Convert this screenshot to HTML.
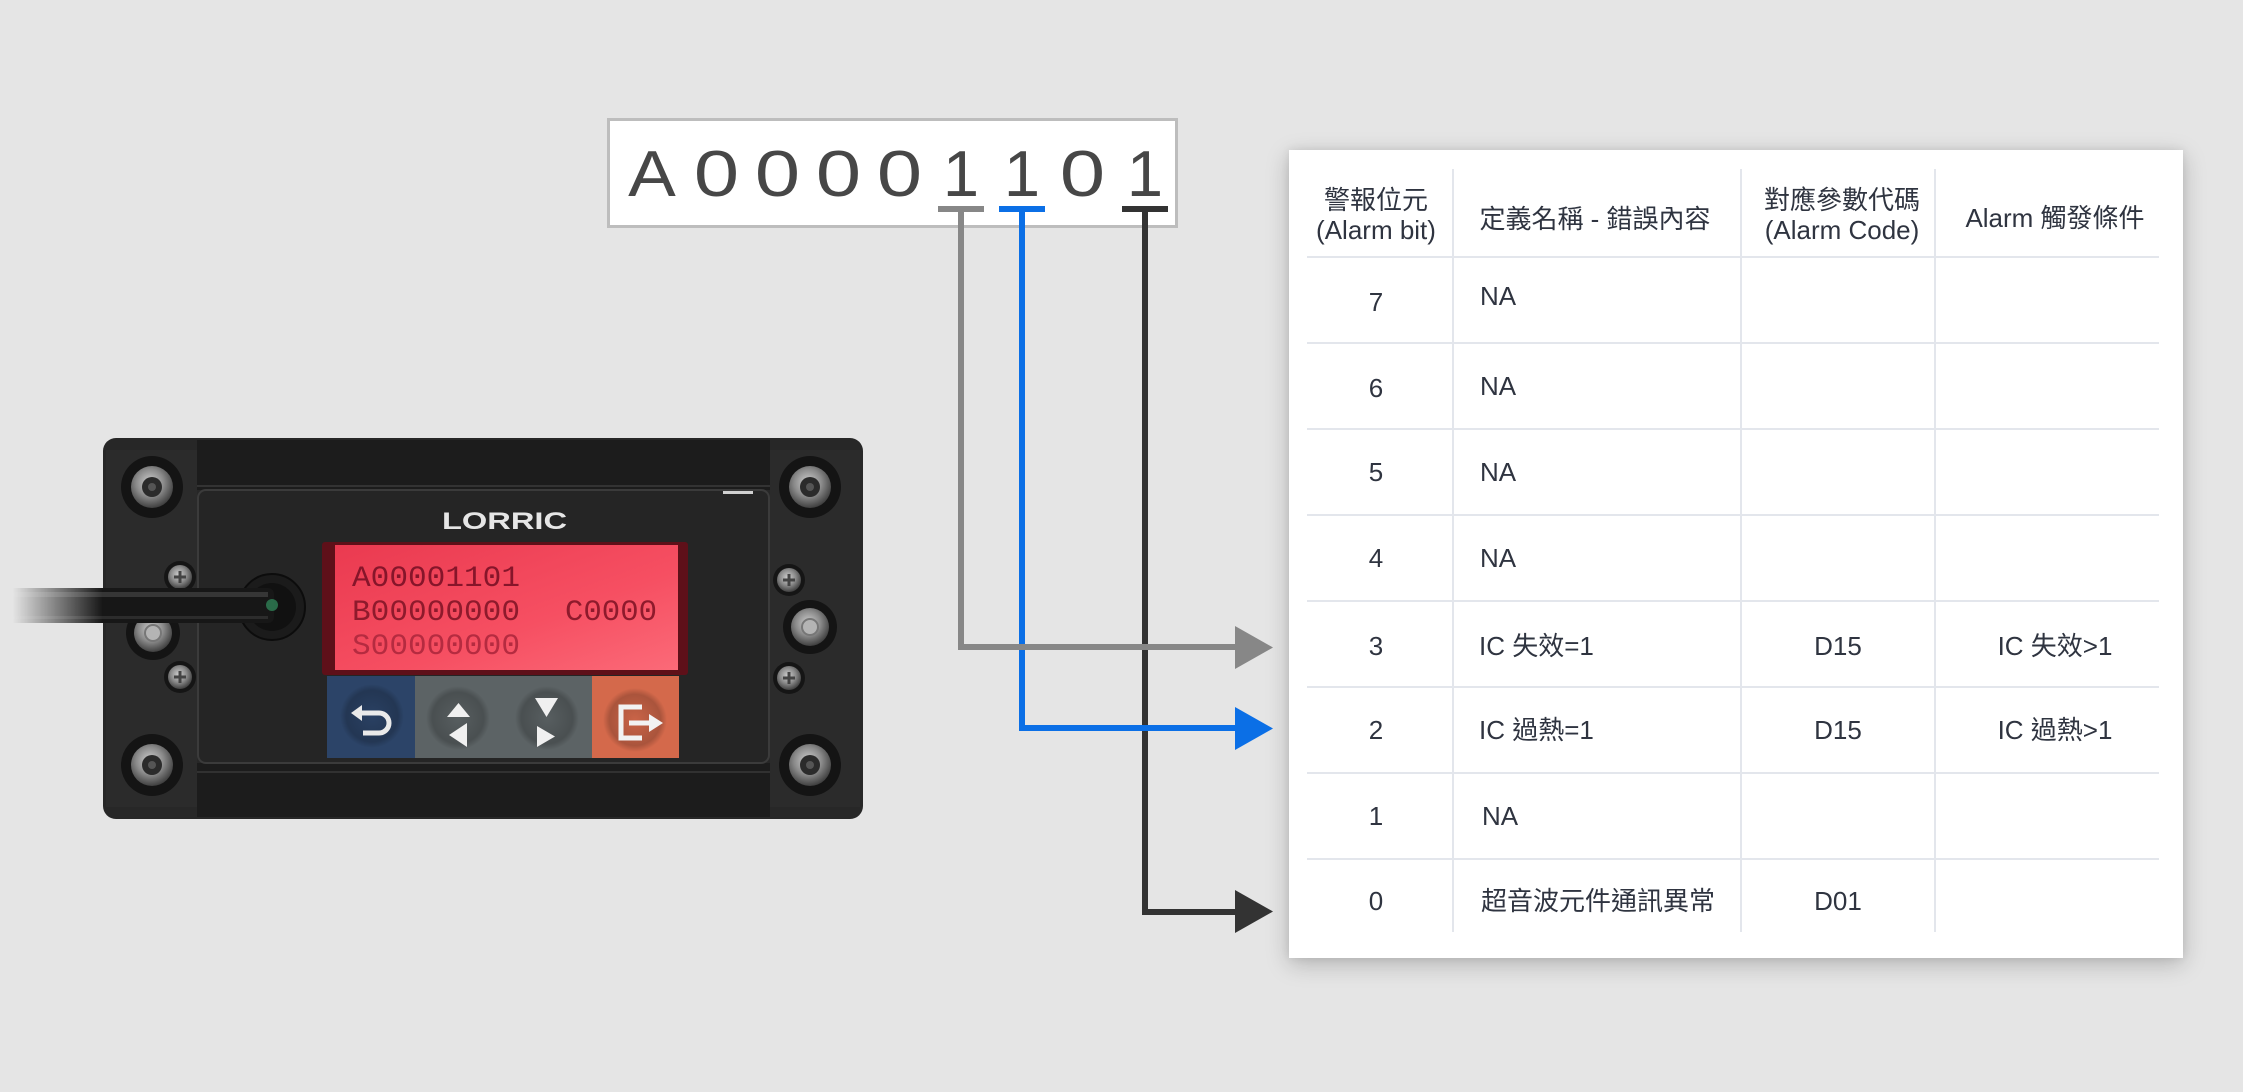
<!DOCTYPE html>
<html><head><meta charset="utf-8">
<style>
html,body{margin:0;padding:0;}
body{width:2243px;height:1092px;background:#e5e5e5;position:relative;overflow:hidden;}
#panel{position:absolute;left:1289px;top:150px;width:894px;height:808px;background:#fff;box-shadow:0 6px 22px rgba(0,0,0,0.22),0 0 8px rgba(0,0,0,0.08);}
svg{position:absolute;left:0;top:0;}
</style></head><body>
<div id="panel"></div>
<svg width="2243" height="1092" viewBox="0 0 2243 1092" xmlns="http://www.w3.org/2000/svg">
<defs>
  <radialGradient id="metal" cx="0.45" cy="0.4" r="0.6">
    <stop offset="0" stop-color="#cfcfcf"/>
    <stop offset="0.55" stop-color="#8a8a8a"/>
    <stop offset="1" stop-color="#404040"/>
  </radialGradient>
  <linearGradient id="lcd" x1="0" y1="0" x2="1" y2="1">
    <stop offset="0" stop-color="#ea3a50"/>
    <stop offset="0.6" stop-color="#f64f62"/>
    <stop offset="1" stop-color="#fb6a78"/>
  </linearGradient>
  <radialGradient id="btnShade" cx="0.5" cy="0.5" r="0.5">
    <stop offset="0" stop-color="#000" stop-opacity="0.05"/>
    <stop offset="0.8" stop-color="#000" stop-opacity="0.2"/>
    <stop offset="1" stop-color="#000" stop-opacity="0"/>
  </radialGradient>
  <linearGradient id="fade" x1="0" y1="0" x2="1" y2="0">
    <stop offset="0" stop-color="#000"/>
    <stop offset="0.04" stop-color="#000"/>
    <stop offset="0.32" stop-color="#fff"/>
    <stop offset="1" stop-color="#fff"/>
  </linearGradient>
  <mask id="cableMask" maskUnits="userSpaceOnUse" x="0" y="570" width="320" height="70">
    <rect x="0" y="570" width="320" height="70" fill="url(#fade)"/>
  </mask>
</defs>

<!-- ===== Device ===== -->
<rect x="103" y="438" width="760" height="381" rx="13" fill="#272727"/>
<rect x="106" y="450" width="91" height="357" fill="#2b2b2b"/>
<rect x="770" y="450" width="90" height="357" fill="#2b2b2b"/>
<rect x="197" y="440" width="573" height="50" fill="#1c1c1c"/>
<rect x="197" y="485" width="573" height="2" fill="#333"/>
<rect x="197" y="763" width="573" height="54" fill="#1c1c1c"/>
<rect x="197" y="771" width="573" height="2" fill="#313131"/>
<!-- bezel -->
<rect x="198" y="490" width="571" height="273" rx="8" fill="#252525" stroke="#3b3b3b" stroke-width="2"/>
<rect x="723" y="491" width="30" height="3" fill="#d0d0d0"/>
<!-- LORRIC -->
<text x="442" y="529" font-family="'Liberation Sans',sans-serif" font-weight="bold" font-size="24" fill="#e6e6e6" textLength="125" lengthAdjust="spacingAndGlyphs">LORRIC</text>
<!-- LCD -->
<rect x="322" y="542" width="366" height="133" rx="3" fill="#5e1019"/>
<rect x="335" y="545" width="343" height="125" fill="url(#lcd)"/>
<g font-family="'Liberation Mono',monospace" font-size="30">
  <text x="352" y="586" fill="#86152a" textLength="168" lengthAdjust="spacingAndGlyphs">A00001101</text>
  <text x="352" y="620" fill="#8e1a2c" textLength="168" lengthAdjust="spacingAndGlyphs">B00000000</text>
  <text x="565" y="620" fill="#8e1a2c" textLength="92" lengthAdjust="spacingAndGlyphs">C0000</text>
  <text x="352" y="654" fill="#b52b40" textLength="168" lengthAdjust="spacingAndGlyphs">S00000000</text>
</g>
<!-- buttons -->
<rect x="327" y="676" width="88" height="82" fill="#2c4468"/>
<rect x="415" y="676" width="177" height="82" fill="#5c6365"/>
<rect x="592" y="676" width="87" height="82" fill="#d4694b"/>
<circle cx="372" cy="716" r="32" fill="url(#btnShade)"/>
<circle cx="458" cy="718" r="32" fill="url(#btnShade)"/>
<circle cx="547" cy="718" r="32" fill="url(#btnShade)"/>
<circle cx="635" cy="720" r="32" fill="url(#btnShade)"/>
<path d="M359 713 H379 A10 10 0 0 1 379 733 H363" fill="none" stroke="#eaeaea" stroke-width="5"/>
<polygon points="351,713 362,705 362,721" fill="#eaeaea"/>
<polygon points="447,717 470,717 458.5,703" fill="#f0f0f0"/>
<polygon points="449,735 467,723 467,747" fill="#f0f0f0"/>
<polygon points="535,698 558,698 546.5,717" fill="#f0f0f0"/>
<polygon points="537,726 537,747 555,736.5" fill="#f0f0f0"/>
<path d="M642 707 H621 V738 H642" fill="none" stroke="#f2f2f2" stroke-width="5"/>
<path d="M629 723 H652" fill="none" stroke="#f2f2f2" stroke-width="5"/>
<polygon points="649,714 663,723 649,732" fill="#f2f2f2"/>
<!-- screws big -->
<g>
  <circle cx="152" cy="487" r="31" fill="#141414"/><circle cx="152" cy="487" r="21" fill="url(#metal)"/><circle cx="152" cy="487" r="10" fill="#2b2b2b"/><circle cx="152" cy="487" r="4" fill="#555"/>
  <circle cx="810" cy="487" r="31" fill="#141414"/><circle cx="810" cy="487" r="21" fill="url(#metal)"/><circle cx="810" cy="487" r="10" fill="#2b2b2b"/><circle cx="810" cy="487" r="4" fill="#555"/>
  <circle cx="152" cy="765" r="31" fill="#141414"/><circle cx="152" cy="765" r="21" fill="url(#metal)"/><circle cx="152" cy="765" r="10" fill="#2b2b2b"/><circle cx="152" cy="765" r="4" fill="#555"/>
  <circle cx="810" cy="765" r="31" fill="#141414"/><circle cx="810" cy="765" r="21" fill="url(#metal)"/><circle cx="810" cy="765" r="10" fill="#2b2b2b"/><circle cx="810" cy="765" r="4" fill="#555"/>
</g>
<!-- middle screws -->
<g>
  <circle cx="153" cy="633" r="27" fill="#141414"/><circle cx="153" cy="633" r="19" fill="url(#metal)"/><circle cx="153" cy="633" r="8" fill="#b4b4b4" stroke="#777" stroke-width="2"/>
  <circle cx="810" cy="627" r="27" fill="#141414"/><circle cx="810" cy="627" r="19" fill="url(#metal)"/><circle cx="810" cy="627" r="8" fill="#b4b4b4" stroke="#777" stroke-width="2"/>
</g>
<!-- small screws -->
<g>
  <circle cx="180" cy="577" r="16" fill="#151515"/><circle cx="180" cy="577" r="12" fill="url(#metal)"/><path d="M174 577 H186 M180 571 V583" stroke="#444" stroke-width="3"/>
  <circle cx="180" cy="677" r="16" fill="#151515"/><circle cx="180" cy="677" r="12" fill="url(#metal)"/><path d="M174 677 H186 M180 671 V683" stroke="#444" stroke-width="3"/>
  <circle cx="789" cy="580" r="16" fill="#151515"/><circle cx="789" cy="580" r="12" fill="url(#metal)"/><path d="M783 580 H795 M789 574 V586" stroke="#444" stroke-width="3"/>
  <circle cx="789" cy="678" r="16" fill="#151515"/><circle cx="789" cy="678" r="12" fill="url(#metal)"/><path d="M783 678 H795 M789 672 V684" stroke="#444" stroke-width="3"/>
</g>
<!-- grommet + cable -->
<circle cx="272" cy="607" r="33" fill="#1b1b1b" stroke="#0c0c0c" stroke-width="2"/>
<circle cx="272" cy="607" r="24" fill="#111"/>
<g mask="url(#cableMask)">
  <rect x="0" y="588" width="274" height="35" rx="6" fill="#171717"/>
  <rect x="0" y="592" width="268" height="5" fill="#3e3e3e" opacity="0.8"/>
  <rect x="0" y="616" width="268" height="3" fill="#2c2c2c"/>
</g>
<circle cx="272" cy="605" r="6" fill="#2e7a52" opacity="0.85"/>

<!-- ===== Big code box ===== -->
<rect x="608.5" y="119.5" width="568" height="107" fill="#fff" stroke="#bdbdbd" stroke-width="3"/>
<g font-family="'Liberation Sans',sans-serif" font-size="65" fill="#474747" text-anchor="middle">
  <text transform="translate(652,196) scale(1.1,1)">A</text>
  <text transform="translate(716.5,196) scale(1.25,1)">0</text>
  <text transform="translate(777.5,196) scale(1.25,1)">0</text>
  <text transform="translate(838.5,196) scale(1.25,1)">0</text>
  <text transform="translate(899.5,196) scale(1.25,1)">0</text>
  <text transform="translate(961,196)">1</text>
  <text transform="translate(1022,196)">1</text>
  <text transform="translate(1082.5,196) scale(1.25,1)">0</text>
  <text transform="translate(1145,196)">1</text>
</g>

<!-- ===== Connectors ===== -->
<rect x="1122" y="206" width="46" height="6" fill="#333"/>
<path d="M1145 209 V912 H1240" fill="none" stroke="#333" stroke-width="6"/>
<polygon points="1235,890 1273,911.5 1235,933" fill="#333"/>

<rect x="999" y="206" width="46" height="6" fill="#0b6fe6"/>
<path d="M1022 209 V728 H1240" fill="none" stroke="#0b6fe6" stroke-width="6"/>
<polygon points="1235,707 1273,728.5 1235,750" fill="#0b6fe6"/>

<rect x="938" y="206" width="46" height="6" fill="#878787"/>
<path d="M961 209 V647 H1240" fill="none" stroke="#878787" stroke-width="6"/>
<polygon points="1235,626 1273,647.5 1235,669" fill="#878787"/>

<!-- ===== Table grid ===== -->
<g stroke="#e3e6ec" stroke-width="2">
  <line x1="1307" y1="257" x2="2159" y2="257"/>
  <line x1="1307" y1="343" x2="2159" y2="343"/>
  <line x1="1307" y1="429" x2="2159" y2="429"/>
  <line x1="1307" y1="515" x2="2159" y2="515"/>
  <line x1="1307" y1="601" x2="2159" y2="601"/>
  <line x1="1307" y1="687" x2="2159" y2="687"/>
  <line x1="1307" y1="773" x2="2159" y2="773"/>
  <line x1="1307" y1="859" x2="2159" y2="859"/>
  <line x1="1453" y1="169" x2="1453" y2="932"/>
  <line x1="1741" y1="169" x2="1741" y2="932"/>
  <line x1="1935" y1="169" x2="1935" y2="932"/>
</g>

<!-- ===== Table text ===== -->
<g font-family="'Liberation Sans','Noto Sans CJK TC',sans-serif" font-size="26" fill="#2f3440">
  <g text-anchor="middle">
    <text x="1376" y="209">警報位元</text>
    <text x="1376" y="239">(Alarm bit)</text>
    <text x="1595" y="228">定義名稱 - 錯誤內容</text>
    <text x="1842" y="209">對應參數代碼</text>
    <text x="1842" y="239">(Alarm Code)</text>
    <text x="2055" y="227">Alarm 觸發條件</text>

    <text x="1376" y="311">7</text>
    <text x="1376" y="397">6</text>
    <text x="1376" y="481">5</text>
    <text x="1376" y="567">4</text>
    <text x="1376" y="655">3</text>
    <text x="1376" y="739">2</text>
    <text x="1376" y="825">1</text>
    <text x="1376" y="910">0</text>

    <text x="1838" y="655">D15</text>
    <text x="1838" y="739">D15</text>
    <text x="1838" y="910">D01</text>

    <text x="2055" y="655">IC 失效&gt;1</text>
    <text x="2055" y="739">IC 過熱&gt;1</text>
  </g>
  <text x="1480" y="305">NA</text>
  <text x="1480" y="395">NA</text>
  <text x="1480" y="481">NA</text>
  <text x="1480" y="567">NA</text>
  <text x="1479" y="655">IC 失效=1</text>
  <text x="1479" y="739">IC 過熱=1</text>
  <text x="1482" y="825">NA</text>
  <text x="1481" y="910">超音波元件通訊異常</text>
</g>
</svg>
</body></html>
